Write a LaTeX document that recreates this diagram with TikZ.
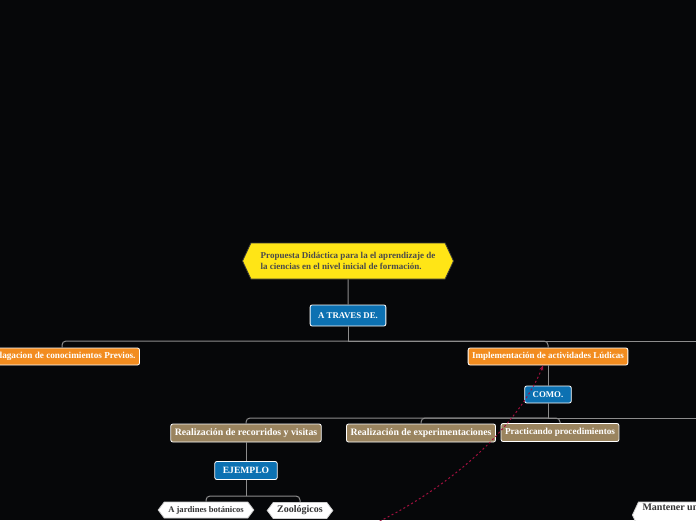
\documentclass[tikz,border=0pt]{standalone}
\usepackage{fontspec}
\setmainfont{Liberation Serif}
\usetikzlibrary{positioning,arrows.meta,shapes.symbols}
\definecolor{bgcol}{HTML}{060709}
\definecolor{rootyellow}{HTML}{FFE516}
\definecolor{rootedge}{HTML}{3A3A3A}
\definecolor{rootink}{HTML}{4A4A4A}
\definecolor{mindblue}{HTML}{0C71B2}
\definecolor{mindorange}{HTML}{F28C1F}
\definecolor{mindtan}{HTML}{9A845F}
\definecolor{leafink}{HTML}{333333}
\definecolor{linkgray}{HTML}{8C8C8C}
\definecolor{dashred}{HTML}{A0103F}
\tikzset{
  mind/.style={x=1pt,y=-1pt,font=\bfseries\fontsize{9}{11}\selectfont,
    every node/.style={draw=white,line width=0.8pt,rounded corners=2pt,text=white,
      inner xsep=4pt,inner ysep=0pt,minimum height=17pt}},
  rootnode/.style={signal,signal to=west and east,signal pointer angle=130,fill=rootyellow,
    draw=rootedge,text=rootink,align=left,minimum width=211pt,minimum height=36pt,rounded corners=0pt},
  bluebox/.style={fill=mindblue,inner xsep=8pt,minimum height=21pt,font=\bfseries\fontsize{8.8}{11}\selectfont},
  orangebox/.style={fill=mindorange},
  tanbox/.style={fill=mindtan,minimum height=18pt,font=\bfseries\fontsize{9.8}{12}\selectfont},
  leaf/.style={signal,signal to=west and east,signal pointer angle=106,fill=white,
    draw=white!80!black,text=leafink,rounded corners=0pt,minimum height=16pt},
  link/.style={draw=linkgray,line width=1pt,rounded corners=4pt},
  relation/.style={draw=dashred,line width=1pt,dash pattern=on 2pt off 2.5pt,
    -{Stealth[length=5pt,width=4pt]}},
}
\begin{document}
\begin{tikzpicture}[mind]
  \useasboundingbox (0,0) rectangle (696,520);
  \fill[bgcol] (0,0) rectangle (696,520);

  \node[rootnode] (root) at (348,261) {Propuesta Didáctica para la el aprendizaje de\\la ciencias en el nivel inicial de formación.};
  \node[bluebox] (atraves) at (348,315.5) {A TRAVES DE.};
  \node[orangebox,font=\bfseries\fontsize{9.2}{11}\selectfont] (previos) at (62,356.5) {Indagacion de conocimientos Previos.};
  \node[orangebox] (ludicas) at (548,356.5) {Implementación de actividades Lúdicas};
  \node[bluebox,minimum height=17pt] (como) at (548,394.5) {COMO.};
  \node[tanbox] (recorridos) at (246,433) {Realización de recorridos y visitas};
  \node[tanbox] (experimentos) at (421,433) {Realización de experimentaciones};
  \node[tanbox,font=\bfseries\fontsize{9.2}{11}\selectfont] (practicas) at (560,432.5) {Practicando procedimientos};
  \node[bluebox,font=\bfseries\fontsize{9.6}{11}\selectfont,minimum height=18pt] (ejemplo) at (246,470.5) {EJEMPLO};
  \node[leaf,font=\bfseries\fontsize{8.6}{10}\selectfont] (jardines) at (206,510) {A jardines botánicos};
  \node[leaf,font=\bfseries\fontsize{10}{12}\selectfont] (zoo) at (300,510.5) {Zoológicos};
  \node[leaf,anchor=west,signal pointer angle=130,align=left,minimum height=26pt,
    font=\bfseries\fontsize{10}{12}\selectfont] (mantener) at (632,515) {Mantener un\\\strut};

  % rails
  \coordinate (rail1) at (348,341);
  \coordinate (rail2) at (548,418);
  \coordinate (rail3) at (246,496);
  \coordinate (edge1) at (700,341);
  \coordinate (edge2) at (700,418);
  \coordinate (hidden) at (300,552);

  \draw[link] (root) -- (atraves);
  \draw[link] (atraves) -- (rail1);
  \draw[link] (rail1) -| (previos);
  \draw[link] (rail1) -| (ludicas);
  \draw[link] (rail1) -- (edge1);
  \draw[link] (ludicas) -- (como);
  \draw[link] (como) -- (rail2);
  \draw[link] (rail2) -| (recorridos);
  \draw[link] (rail2) -| (experimentos);
  \draw[link] (rail2) -| (practicas);
  \draw[link] (rail2) -- (edge2);
  \draw[link] (recorridos) -- (ejemplo);
  \draw[link] (ejemplo) -- (rail3);
  \draw[link] (rail3) -| (jardines);
  \draw[link] (rail3) -| (zoo);

  % relation
  \draw[relation] (hidden) .. controls (440,512) and (522,420) .. ([xshift=-5pt]ludicas.south);
\end{tikzpicture}
\end{document}
